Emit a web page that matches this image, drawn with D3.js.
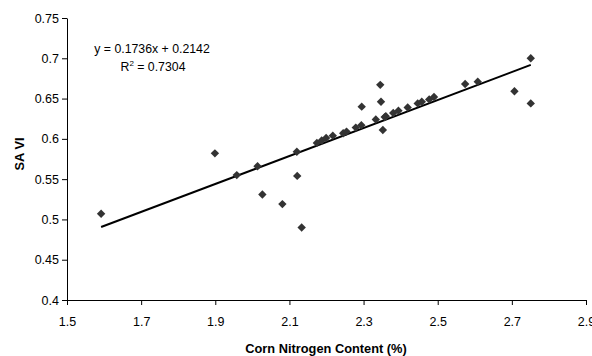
<!DOCTYPE html>
<html>
<head>
<meta charset="utf-8">
<script src="https://cdn.jsdelivr.net/npm/d3@7"></script>
<style>
  body { margin: 0; background: #fff; }
  text { font-family: "Liberation Sans", Arial, sans-serif; }
</style>
</head>
<body>
<script>
// data: corn N content (%) vs SAVI
const nitrogen = [1.592, 1.899, 1.958, 2.014, 2.027, 2.081, 2.120, 2.121, 2.133,
  2.174, 2.187, 2.199, 2.217, 2.245, 2.254, 2.279, 2.294, 2.295, 2.333, 2.345,
  2.347, 2.352, 2.357, 2.36, 2.38, 2.394, 2.419, 2.446, 2.457, 2.477, 2.49,
  2.574, 2.608, 2.707, 2.751, 2.751];
const savi = [0.507, 0.582, 0.555, 0.566, 0.531, 0.519, 0.584, 0.554, 0.490,
  0.595, 0.598, 0.601, 0.604, 0.607, 0.609, 0.614, 0.617, 0.640, 0.624, 0.667,
  0.646, 0.611, 0.627, 0.628, 0.632, 0.635, 0.639, 0.644, 0.646, 0.649, 0.652,
  0.668, 0.671, 0.659, 0.700, 0.644];

const xTicks = [1.5, 1.7, 1.9, 2.1, 2.3, 2.5, 2.7, 2.9];
const yTicks = [0.4, 0.45, 0.5, 0.55, 0.6, 0.65, 0.7, 0.75];

// linear trendline from the chart
const slope = 0.1736;
const intercept = 0.2142;
const eqLabel = "y = 0.1736x + 0.2142";
const r2Value = "0.7304";

const width = 592;
const height = 356;

const svg = d3.select("body").append("svg")
  .attr("width", width)
  .attr("height", height);

const x = d3.scaleLinear().domain([1.5, 2.9]).range([67, 586]);
const y = d3.scaleLinear().domain([0.4, 0.75]).range([300, 18]);

// axes
const xAxis = d3.axisBottom(x).tickValues(xTicks).tickSize(5).tickSizeOuter(0)
  .tickFormat(d3.format(""));
const yAxis = d3.axisLeft(y).tickValues(yTicks).tickSize(5).tickSizeOuter(0)
  .tickFormat(d3.format(""));

const gx = svg.append("g")
  .attr("transform", "translate(0," + y(0.4) + ")")
  .call(xAxis);
const gy = svg.append("g")
  .attr("transform", "translate(" + x(1.5) + ",0)")
  .call(yAxis);

[gx, gy].forEach(function (g) {
  g.selectAll("path, line").attr("stroke", "#000").attr("stroke-width", 1);
  g.selectAll("text").attr("fill", "#000").style("font-size", "12.5px");
});
gx.selectAll("text").attr("y", 17);
gy.selectAll("text").attr("x", -8);

// trendline across the data range
const xMin = d3.min(nitrogen);
const xMax = d3.max(nitrogen);
svg.append("line")
  .attr("x1", x(xMin))
  .attr("y1", y(slope * xMin + intercept))
  .attr("x2", x(xMax))
  .attr("y2", y(slope * xMax + intercept))
  .attr("stroke", "#000")
  .attr("stroke-width", 2);

// diamond markers
const diamond = "M0,-4.2L4.2,0L0,4.2L-4.2,0Z";
svg.selectAll(".pt")
  .data(nitrogen)
  .enter()
  .append("path")
  .attr("class", "pt")
  .attr("d", diamond)
  .attr("fill", "#333")
  .attr("transform", (d, i) => "translate(" + x(d) + "," + y(savi[i]) + ")");

// equation text
svg.append("text")
  .attr("x", 152)
  .attr("y", 53)
  .attr("text-anchor", "middle")
  .style("font-size", "12.3px")
  .text(eqLabel);

const r2 = svg.append("text")
  .attr("x", 153)
  .attr("y", 71)
  .attr("text-anchor", "middle")
  .style("font-size", "12.3px");
r2.append("tspan").text("R");
r2.append("tspan").attr("dy", -5).style("font-size", "8px").text("2");
r2.append("tspan").attr("dy", 5).text(" = " + r2Value);

// axis titles
svg.append("text")
  .attr("x", 326)
  .attr("y", 353)
  .attr("text-anchor", "middle")
  .style("font-size", "12.8px")
  .style("font-weight", "bold")
  .text("Corn Nitrogen Content (%)");

svg.append("text")
  .attr("transform", "translate(24,154) rotate(-90)")
  .attr("text-anchor", "middle")
  .style("font-size", "12.8px")
  .style("font-weight", "bold")
  .text("SA VI");
</script>
</body>
</html>
